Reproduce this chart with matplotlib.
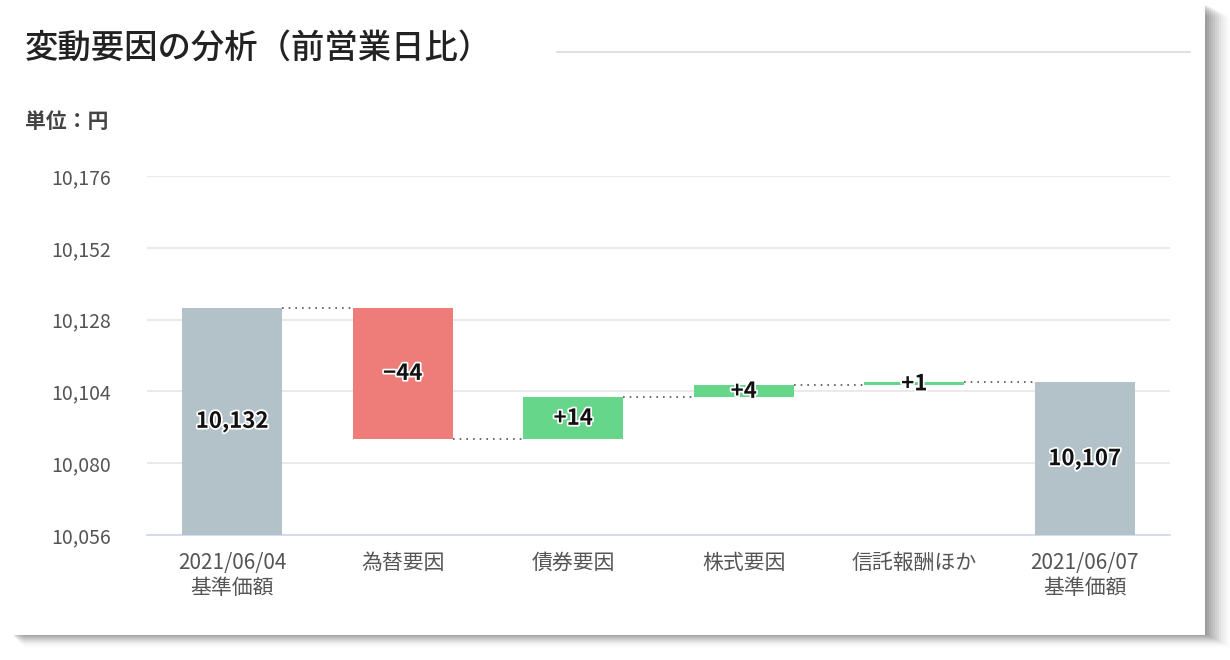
import matplotlib.pyplot as plt
import matplotlib.patheffects as pe
from matplotlib.patches import Rectangle
import numpy as np

plt.rcParams['font.family'] = ['Noto Sans CJK JP', 'DejaVu Sans']

# data
categories = ['2021/06/04\n基準価額', '為替要因', '債券要因', '株式要因', '信託報酬ほか', '2021/06/07\n基準価額']
start_value = 10132
changes = [-44, 14, 4, 1]
end_value = 10107
yticks = [10056, 10080, 10104, 10128, 10152, 10176]

grey = '#b3c1c8'
red = '#ee7c78'
green = '#66d68a'

fig = plt.figure(figsize=(12.3, 6.6), dpi=100)
fig.patch.set_facecolor('white')

# card shadow (right and bottom)
for i in range(14):
    a = 0.06 * (1 - i / 14)
    fig.patches.append(Rectangle((12 / 1230 + i / 1230, (25 - i) / 660),
                                 (1195 + i) / 1230, (630 + 0) / 660,
                                 transform=fig.transFigure, facecolor='black',
                                 alpha=a, edgecolor='none', zorder=0))
fig.patches.append(Rectangle((8 / 1230, 25 / 660), 1197 / 1230, 635 / 660,
                             transform=fig.transFigure, facecolor='white',
                             edgecolor='none', zorder=1))

ax = fig.add_axes([147 / 1230, 1 - 535 / 660, 1023 / 1230, 359 / 660])
ax.set_zorder(2)
ax.patch.set_alpha(0)

# waterfall bottoms/heights
bottoms = [yticks[0]]
heights = [start_value - yticks[0]]
colors = [grey]
level = start_value
for c in changes:
    new = level + c
    bottoms.append(min(level, new))
    heights.append(abs(c))
    colors.append(green if c > 0 else red)
    level = new
bottoms.append(yticks[0])
heights.append(end_value - yticks[0])
colors.append(grey)

x = np.arange(len(categories))
w = 0.587
ax.bar(x, heights, bottom=bottoms, width=w, color=colors, zorder=3)

# connectors
levels = [start_value]
lv = start_value
for c in changes:
    lv += c
    levels.append(lv)
for i, lv in enumerate(levels):
    ax.plot([x[i] + w / 2, x[i + 1] - w / 2], [lv, lv], color='#555555',
            linestyle=(0, (1, 3)), linewidth=1.2, zorder=4)

# labels
labels = ['{:,}'.format(start_value)] + \
         [('+' if c > 0 else '−') + str(abs(c)) for c in changes] + \
         ['{:,}'.format(end_value)]
for i in range(len(x)):
    ax.text(x[i], bottoms[i] + heights[i] / 2, labels[i], ha='center', va='center',
            fontsize=16, fontweight='bold', color='#111111', zorder=5,
            path_effects=[pe.withStroke(linewidth=2.5, foreground='white')])

ax.set_xlim(-0.5, len(x) - 0.5)
ax.set_ylim(yticks[0], yticks[-1])
ax.set_yticks(yticks)
ax.set_yticklabels(['{:,}'.format(v) for v in yticks], fontsize=14, color='#555555')
ax.set_xticks(x)
ax.set_xticklabels(categories, fontsize=15, color='#555555', linespacing=1.2)
ax.tick_params(length=0)
ax.tick_params(axis='y', pad=26)
ax.tick_params(axis='x', pad=12)
ax.grid(axis='y', color='#e6e6e6', linewidth=1.2, zorder=0)
for s in ['top', 'right', 'left']:
    ax.spines[s].set_visible(False)
ax.spines['bottom'].set_color('#ccd6eb')
ax.spines['bottom'].set_linewidth(1.2)

fig.text(25 / 1230, 1 - 48 / 660, '変動要因の分析（前営業日比）', fontsize=24,
         fontweight='medium', color='#222222', va='center', ha='left', zorder=3)
fig.add_artist(plt.Line2D([557 / 1230, 1190 / 1230], [1 - 52 / 660, 1 - 52 / 660],
                          color='#d9d9d9', linewidth=1.2, zorder=3))
fig.text(25 / 1230, 1 - 122 / 660, '単位：円', fontsize=15, fontweight='bold',
         color='#444444', va='center', ha='left', zorder=3)

fig.savefig('out.png', dpi=100)
